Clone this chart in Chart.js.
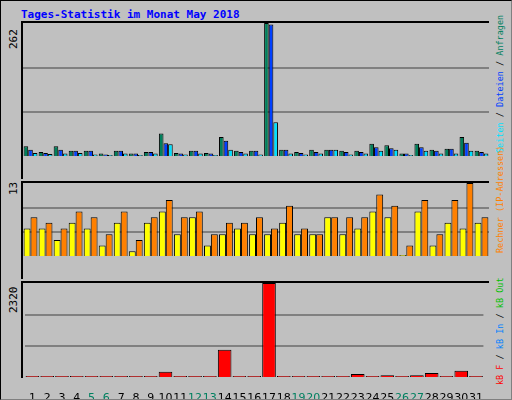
<!DOCTYPE html>
<html>
<head>
<meta charset="utf-8">
<script src="https://cdn.jsdelivr.net/npm/chart.js@4/dist/chart.umd.min.js"></script>
<style>
  body { margin: 0; }
  #frame { position: relative; width: 510px; height: 398px; background: #c0c0c0;
           border-top: 1px solid #000; border-left: 1px solid #000;
           border-right: 1px solid #808080; border-bottom: 1px solid #808080; overflow: hidden; }
  .title { position: absolute; left: 20px; top: 7px; font: bold 11px "DejaVu Sans Mono", monospace; color: #0000ff; }
  .panel { position: absolute; left: 20px; width: 468px; border-left: 2px solid #000; border-top: 2px solid #000; box-sizing: border-box; }
  canvas { position: absolute; }
  .vlab { position: absolute; font: 11px "DejaVu Sans Mono", monospace; white-space: nowrap;
          transform-origin: 0 0; transform: rotate(-90deg); }
  .vlab.r { font-size: 8.5px; }
</style>
</head>
<body>
<div id="frame">
  <div class="title">Tages-Statistik im Monat May 2018</div>
  <div class="panel" style="top:20px;height:158px"></div>
  <div class="panel" style="top:180px;height:98px"></div>
  <div class="panel" style="top:280px;height:97px"></div>
  <canvas id="c1" style="left:22px;top:22px" width="466" height="155"></canvas>
  <canvas id="c2" style="left:22px;top:182px" width="466" height="95"></canvas>
  <canvas id="c3" style="left:22px;top:282px" width="466" height="116"></canvas>
  <div class="vlab" style="left:6px;top:48px">262</div>
  <div class="vlab" style="left:6px;top:194px">13</div>
  <div class="vlab" style="left:6px;top:312px">2320</div>
  <div class="vlab r" style="left:494px;top:152px"><span style="color:#00e0ff">Seiten</span> / <span style="color:#0040ff">Dateien</span> / <span style="color:#008060">Anfragen</span></div>
  <div class="vlab r" style="left:494px;top:252px"><span style="color:#ff8000">Rechner (IP-Adressen)</span></div>
  <div class="vlab r" style="left:494px;top:384px"><span style="color:#ff0000">kB F</span> / <span style="color:#0080ff">kB In</span> / <span style="color:#00c000">kB Out</span></div>
</div>
<script>
const days = ['1','2','3','4','5','6','7','8','9','10','11','12','13','14','15','16','17','18','19','20','21','22','23','24','25','26','27','28','29','30','31'];
const weekendDays = ['5','6','12','13','19','20','26','27'];
const hits  = [21,10,21,12,12,7,12,7,10,46,8,12,8,39,12,12,262,14,10,14,14,12,12,26,23,7,26,14,16,39,12];
const files = [14,8,14,12,12,5,12,7,10,27,7,12,7,32,10,12,259,14,8,10,14,10,10,19,17,7,19,12,16,28,10];
const pages = [8,6,7,8,5,2,7,1,7,25,5,7,3,14,7,5,68,7,5,7,14,5,7,12,14,0,12,7,7,12,7];
const visits = [5,5,3,6,5,2,6,1,6,8,4,7,2,4,5,4,4,6,4,4,7,4,5,8,7,0,8,2,6,5,6];
const sites  = [7,6,5,8,7,4,8,3,7,10,7,8,4,6,6,7,5,9,5,4,7,7,7,11,9,2,10,4,10,13,7];
const kbytes = [45,10,10,45,10,10,10,10,10,150,10,45,10,690,10,10,2320,10,10,10,45,45,95,45,70,10,70,120,45,180,45];

function bars(data, color) {
  return { data: data, backgroundColor: color, borderColor: '#000', borderWidth: 1,
           barPercentage: 1, categoryPercentage: 0.92, minBarLength: 2 };
}

function panel(id, datasets, max, showX) {
  new Chart(document.getElementById(id), {
    type: 'bar',
    data: { labels: days, datasets: datasets },
    options: {
      responsive: false, animation: false,
      layout: { padding: 0 },
      plugins: { legend: { display: false }, tooltip: { enabled: false } },
      scales: {
        x: {
          display: showX,
          grid: { display: false },
          border: { display: false },
          afterFit: axis => { axis.height = 21; },
          ticks: {
            font: { family: 'DejaVu Sans', size: 11 }, padding: 6, maxRotation: 0, autoSkip: false,
            color: ctx => weekendDays.includes(days[ctx.index]) ? '#008060' : '#000'
          }
        },
        y: {
          min: 0, max: max,
          afterBuildTicks: axis => { axis.ticks = [0, max / 3, max * 2 / 3, max].map(v => ({ value: v })); },
          ticks: { display: false },
          grid: { color: ctx => (ctx.tick.value === 0 || ctx.tick.value === max) ? 'transparent' : '#808080', lineWidth: 2, drawTicks: false },
          border: { display: false }
        }
      }
    }
  });
}

panel('c1', [bars(hits, '#00805c'), bars(files, '#0040ff'), bars(pages, '#00e0ff')], 262, false);
panel('c2', [bars(visits, '#ffff00'), bars(sites, '#ff8000')], 13, false);
panel('c3', [bars(kbytes, '#ff0000')], 2320, true);
</script>
</body>
</html>
